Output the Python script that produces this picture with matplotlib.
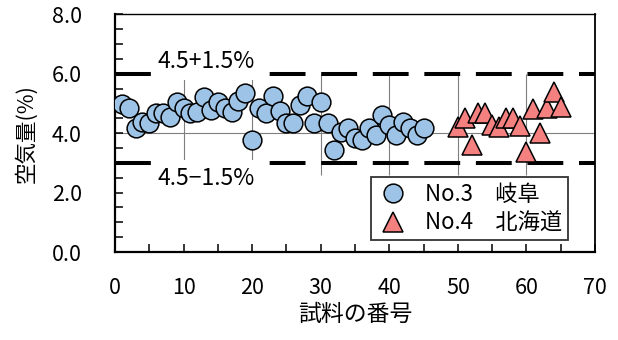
import numpy as np
import matplotlib.pyplot as plt
from matplotlib.ticker import MultipleLocator, FormatStrFormatter

plt.rcParams['font.family'] = ['Noto Sans CJK JP', 'DejaVu Sans']

# 空気量の測定値 (No.3 岐阜: 試料 1-45, No.4 北海道: 試料 50-65)
gifu_no = list(range(1, 46))
gifu_air = [4.98, 4.84, 4.17, 4.39, 4.33, 4.67, 4.69, 4.56, 5.06, 4.84,
            4.67, 4.73, 5.23, 4.78, 5.06, 4.84, 4.70, 5.08, 5.36, 3.77,
            4.84, 4.67, 5.25, 4.75, 4.36, 4.33, 4.95, 5.24, 4.33, 5.06,
            4.33, 3.43, 4.05, 4.17, 3.83, 3.77, 4.17, 3.94, 4.61, 4.28,
            3.94, 4.39, 4.17, 3.94, 4.17]
hokkaido_no = list(range(50, 66))
hokkaido_air = [4.22, 4.50, 3.60, 4.67, 4.67, 4.28, 4.22, 4.52, 4.52, 4.24,
                3.38, 4.80, 4.00, 4.84, 5.40, 4.90]

target_air = 4.5
tolerance = 1.5
labels = ['No.3\u3000岐阜', 'No.4\u3000北海道']

color_gifu = '#9DC3E6'
color_hokkaido = '#F4817F'

fig = plt.figure(figsize=(6.18, 3.40), dpi=100)
ax = fig.add_axes([0.1861, 0.2588, 0.7767, 0.6986])

ax.set_xlim(0, 70)
ax.set_ylim(0, 8)

# 補助線
ax.vlines(np.arange(10, 70, 10), 2.6, 6.0, color='#7f7f7f', linewidth=0.8, zorder=1)
ax.axhline(4.0, color='#7f7f7f', linewidth=0.8, zorder=1)

# 規格の上限・下限
dash = (0, (8.9, 3.9))
ax.axhline(target_air + tolerance, color='k', linewidth=2.9, linestyle=dash, zorder=2)
ax.axhline(target_air - tolerance, color='k', linewidth=2.9, linestyle=dash, zorder=2)

box = dict(facecolor='white', edgecolor='none', boxstyle='square,pad=0.3')
ax.text(13.3, 6.40, '4.5+1.5%', ha='center', va='center', fontsize=16.5,
        bbox=box, zorder=3)
ax.text(13.3, 2.48, '4.5\u22121.5%', ha='center', va='center', fontsize=16.5,
        bbox=box, zorder=3)

ax.plot(gifu_no, gifu_air, linestyle='none', marker='o', markersize=13.5,
        markerfacecolor=color_gifu, markeredgecolor='k', markeredgewidth=1.1,
        label=labels[0], zorder=4)
ax.plot(hokkaido_no, hokkaido_air, linestyle='none', marker='^', markersize=14.5,
        markerfacecolor=color_hokkaido, markeredgecolor='k', markeredgewidth=1.1,
        label=labels[1], zorder=4)

# 軸
ax.xaxis.set_major_locator(MultipleLocator(10))
ax.xaxis.set_minor_locator(MultipleLocator(5))
ax.yaxis.set_major_locator(MultipleLocator(2))
ax.yaxis.set_minor_locator(MultipleLocator(0.5))
ax.yaxis.set_major_formatter(FormatStrFormatter('%.1f'))
ax.tick_params(axis='both', which='both', direction='in', length=6, width=1.1,
               labelsize=15.5)
ax.tick_params(axis='x', which='major', pad=18)
ax.tick_params(axis='y', which='major', pad=24)

ax.spines['left'].set_linewidth(1.6)
ax.spines['bottom'].set_linewidth(1.6)
ax.spines['top'].set_linewidth(1.0)
ax.spines['right'].set_linewidth(1.3)

ax.set_xlabel('試料の番号', fontsize=16.5, labelpad=3)
ax.set_ylabel('空気量(%)', fontsize=15.5, labelpad=10)

leg = ax.legend(loc='lower right', bbox_to_anchor=(0.944, 0.05), fontsize=16,
                frameon=True, fancybox=False, borderpad=0.25, handletextpad=0.7,
                handlelength=1.5, labelspacing=0.25, borderaxespad=0)
leg.get_frame().set_edgecolor('k')
leg.get_frame().set_linewidth(1.3)
leg.set_zorder(5)

plt.savefig('out.png', dpi=100)
